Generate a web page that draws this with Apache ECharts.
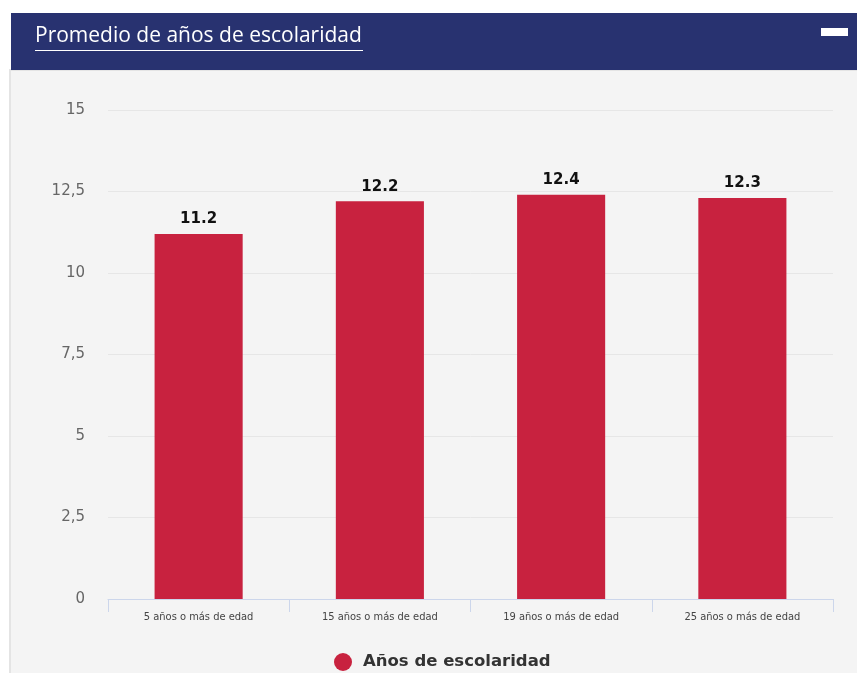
<!DOCTYPE html>
<html><head><meta charset="utf-8">
<script src="https://cdn.jsdelivr.net/npm/echarts@6/dist/echarts.min.js"></script>
<style>html,body{margin:0;padding:0;background:#fff;}#c{width:857px;height:673px;}</style>
</head><body><div id="c"></div>
<script>
var titleText = 'Promedio de años de escolaridad';
var seriesName = 'Años de escolaridad';
var categories = ['5 años o más de edad', '15 años o más de edad', '19 años o más de edad', '25 años o más de edad'];
var values = [11.2, 12.2, 12.4, 12.3];
var yMin = 0, yMax = 15, yStep = 2.5;

var chart = echarts.init(document.getElementById('c'), null, {renderer: 'canvas'});
chart.setOption({
  animation: false,
  backgroundColor: '#ffffff',
  graphic: [
    {type: 'rect', shape: {x: 10, y: 70, width: 849, height: 606}, style: {fill: '#f4f4f4', stroke: '#e4e4e4', lineWidth: 2}, z: -10},
    {type: 'rect', shape: {x: 11, y: 13, width: 846, height: 57}, style: {fill: '#283270'}, z: -9},
    {type: 'text', left: 35, top: 26, style: {text: titleText, fill: '#ffffff', font: '21px "Open Sans", sans-serif'}},
    {type: 'rect', shape: {x: 35, y: 50, width: 328, height: 1}, style: {fill: '#ffffff'}},
    {type: 'rect', shape: {x: 821, y: 28, width: 27, height: 8}, style: {fill: '#ffffff'}}
  ],
  grid: {left: 108, right: 24, top: 110, bottom: 74, containLabel: false},
  legend: {
    bottom: -3, left: 329,
    data: [seriesName],
    icon: 'circle', itemWidth: 18, itemHeight: 18, itemGap: 8,
    textStyle: {fontSize: 16.5, fontWeight: 'bold', color: '#333', fontFamily: '"DejaVu Sans", sans-serif', padding: [0, 0, 0, 6]}
  },
  xAxis: {
    type: 'category', data: categories,
    axisLine: {lineStyle: {color: '#ccd6eb'}},
    axisTick: {show: true, length: 13, lineStyle: {color: '#ccd6eb'}},
    axisLabel: {fontSize: 11, color: '#444', margin: 13, fontFamily: '"DejaVu Sans Condensed", "DejaVu Sans", sans-serif'}
  },
  yAxis: {
    type: 'value', min: yMin, max: yMax, interval: yStep,
    axisLine: {show: false}, axisTick: {show: false},
    splitLine: {lineStyle: {color: '#e6e6e6'}},
    axisLabel: {fontSize: 15, color: '#666', margin: 23, fontFamily: '"DejaVu Sans", sans-serif',
      formatter: function (v) { return String(v).replace('.', ','); }}
  },
  series: [{
    name: seriesName, type: 'bar', data: values,
    barWidth: '48.6%',
    itemStyle: {color: '#c8223f'},
    label: {show: true, position: 'top', distance: 7, fontSize: 15, fontWeight: 'bold', color: '#111', fontFamily: '"DejaVu Sans", sans-serif',
      formatter: function (p) { return p.value.toFixed(1); }}
  }]
});
</script></body></html>
